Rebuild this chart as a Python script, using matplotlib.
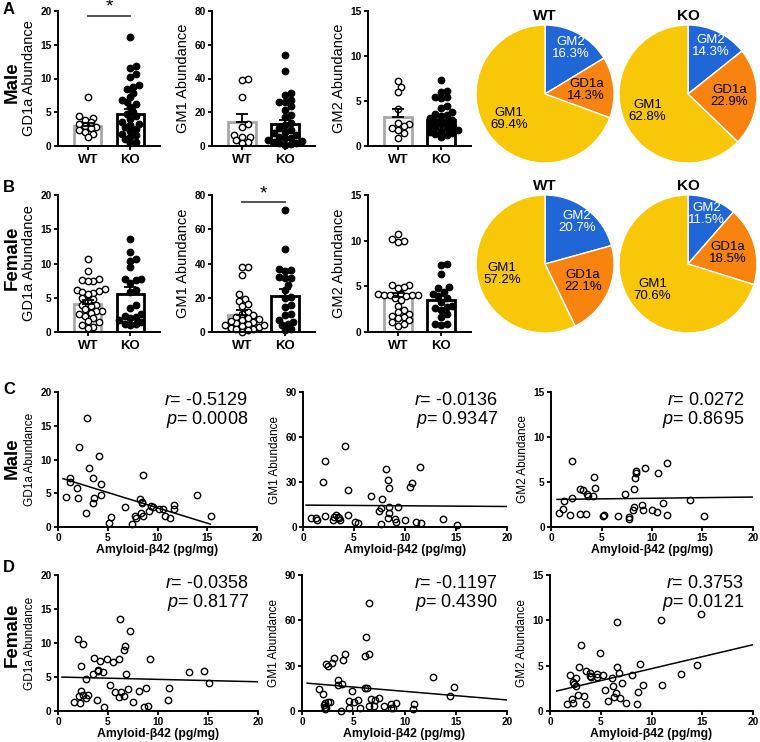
import numpy as np
import matplotlib.pyplot as plt

plt.rcParams['font.family'] = ['Liberation Sans', 'DejaVu Sans']
plt.rcParams['mathtext.fontset'] = 'custom'
plt.rcParams['mathtext.it'] = 'Liberation Sans:italic'
plt.rcParams['mathtext.rm'] = 'Liberation Sans'

# ---- bar chart data (WT / KO individual values, mean, SEM) ----
m_gd1a_wt = [7.3, 4.4, 4.2, 3.9, 3.5, 3.3, 3.0, 2.8, 2.6, 2.4, 2.1, 1.8, 1.4]
m_gd1a_ko = [16.2, 11.8, 11.6, 10.6, 10.2, 9.0, 8.8, 8.4, 7.9, 7.2, 6.8, 6.5, 6.2, 5.8, 5.1,
             4.8, 4.4, 4.0, 3.6, 3.3, 3.1, 2.8, 2.5, 2.2, 1.8, 1.6, 1.3, 1.0, 0.6, 0.4]
m_gm1_wt = [40, 39, 29, 13, 11.5, 6.5, 5.5, 5.1, 3.5, 2.5, 1.6]
m_gm1_ko = [54, 44.5, 31.6, 30, 27, 26.3, 26, 23.7, 21.3, 18.4, 17.4, 13.4, 12.5, 10.5, 9.5,
            8.5, 7.5, 6.5, 5.5, 5, 4.5, 3.5, 3, 2.6, 2, 1.6, 1.2, 0.8]
m_gm2_wt = [7.2, 6.6, 6.0, 4.1, 2.6, 2.4, 2.2, 2.0, 1.8, 1.4, 0.9]
m_gm2_ko = [7.3, 6.1, 6.0, 5.5, 5.4, 5.3, 4.4, 4.2, 3.8, 3.6, 3.4, 3.3, 3.1, 2.9, 2.7,
            2.5, 2.2, 2.1, 2.0, 1.8, 1.6, 1.4, 1.2, 1.0, 1.3, 1.7, 2.3, 2.8]
f_gd1a_wt = [10.7, 8.9, 7.7, 7.6, 7.5, 7.4, 6.3, 6.1, 6.0, 5.9, 5.7, 5.6, 4.9, 4.8, 4.5,
             4.0, 3.9, 3.8, 3.3, 3.1, 3.0, 2.8, 2.6, 2.3, 2.1, 1.6, 1.4, 1.0, 0.8, 0.6]
f_gd1a_ko = [13.6, 11.7, 10.7, 10.4, 9.5, 7.8, 7.7, 7.6, 7.2, 6.2, 5.9, 4.0, 3.5, 2.7, 2.4,
             2.2, 2.0, 1.7, 1.5, 1.2, 1.1, 1.0]
f_gm1_wt = [38, 37.7, 33, 22, 19.5, 18, 16.6, 15, 11.7, 10.7, 9.8, 8.8, 7.8, 6.8, 5.9,
            5.5, 4.9, 3.9, 3.5, 2.9, 2.5, 2.0, 1.5, 1.0, 0.2, 8.2, 6.3, 4.2]
f_gm1_ko = [71.2, 48.4, 36.5, 36, 35.5, 32.2, 31.8, 31.6, 27.7, 24.8, 20.5, 20, 15.6, 14.6,
            10.7, 9.8, 6.8, 6.0, 4.9, 3.9, 2.0, 1.0]
f_gm2_wt = [10.7, 10.2, 10.0, 9.8, 5.2, 5.1, 4.9, 4.8, 4.2, 4.2, 4.1, 4.1, 4.0, 4.0, 3.9,
            3.7, 3.5, 2.9, 2.4, 2.2, 2.0, 1.8, 1.6, 1.5, 1.3, 1.1, 0.9, 0.7]
f_gm2_ko = [7.5, 7.3, 6.4, 4.9, 4.8, 4.4, 4.2, 3.9, 3.7, 3.3, 2.9, 2.7, 2.6, 2.4, 2.0,
            1.6, 0.9, 0.85, 0.8]

m_means = {'gd1a': (2.95, 4.8), 'gm1': (14.0, 13.0), 'gm2': (3.26, 2.9)}
m_sems = {'gd1a': (0.45, 0.75), 'gm1': (4.8, 2.6), 'gm2': (0.8, 0.4)}
f_means = {'gd1a': (4.1, 5.6), 'gm1': (10.1, 20.9), 'gm2': (3.85, 3.5)}
f_sems = {'gd1a': (0.55, 0.9), 'gm1': (2.5, 4.1), 'gm2': (0.45, 0.45)}

# ---- pie data (GM2, GD1a, GM1 percentages) ----
pie_names = ['GM2', 'GD1a', 'GM1']
pie_colors = ['#2166d6', '#f8830f', '#f7c708']
pie_m_wt = [16.3, 14.3, 69.4]
pie_m_ko = [14.3, 22.9, 62.8]
pie_f_wt = [20.7, 22.1, 57.2]
pie_f_ko = [11.5, 18.5, 70.6]

# ---- correlation data: Amyloid-b42 (x) vs abundance (y) ----
c1_x = [2.92, 2.08, 4.13, 3.09, 8.5, 3.53, 1.18, 1.24, 4.37, 1.92, 4.34, 0.77, 2.05, 3.63, 3.53,
        14.0, 8.24, 8.4, 8.48, 2.86, 6.76, 5.3, 5.14, 7.46, 7.73, 7.8, 8.37, 8.57, 9.14, 9.3,
        9.5, 10.2, 10.6, 10.8, 11.3, 11.66, 11.66, 15.4]
c1_y = [16.2, 11.8, 10.5, 8.8, 7.7, 7.2, 7.3, 6.7, 6.4, 5.8, 4.8, 4.4, 4.3, 4.3, 3.5,
        4.7, 4.2, 3.7, 3.5, 2.1, 2.9, 1.5, 0.64, 0.4, 1.7, 1.4, 2.1, 1.7, 2.4, 3.1,
        2.9, 2.6, 2.7, 1.7, 1.4, 3.2, 2.6, 1.7]
c2_x = [4.15, 2.12, 1.96, 4.38, 8.17, 8.3, 8.4, 11.5, 10.7, 10.46, 6.7, 7.78, 7.42, 7.65, 8.4,
        9.3, 8.4, 4.38, 2.12, 0.78, 1.27, 1.37, 3.0, 3.27, 2.94, 3.56, 3.66, 3.43, 8.3, 9.05,
        9.15, 10.0, 5.1, 5.36, 7.65, 11.1, 11.57, 13.76, 15.13]
c2_y = [54.0, 44.3, 30.2, 24.7, 38.8, 31.1, 25.8, 39.9, 29.1, 26.7, 21.0, 18.5, 10.6, 12.8, 13.5,
        13.5, 9.5, 7.9, 7.3, 5.7, 6.0, 4.4, 6.6, 7.9, 4.4, 5.7, 4.4, 6.8, 5.7, 5.3,
        3.5, 4.4, 3.3, 2.4, 1.8, 3.1, 2.4, 5.5, 1.5]
c3_x = [2.07, 11.5, 9.3, 10.6, 8.4, 8.4, 8.3, 4.3, 4.36, 8.2, 2.83, 3.12, 3.55, 3.62, 4.14,
        7.37, 2.07, 1.25, 13.8, 11.1, 9.05, 8.26, 1.18, 0.82, 1.9, 2.9, 3.5, 9.14, 9.97, 10.46,
        8.1, 5.13, 5.26, 6.6, 7.7, 7.7, 11.5, 15.16]
c3_y = [7.3, 7.15, 6.6, 6.0, 6.2, 6.0, 5.5, 5.55, 4.33, 4.2, 4.2, 4.07, 3.7, 3.44, 3.5,
        3.7, 3.2, 2.9, 3.04, 2.67, 2.44, 2.2, 2.0, 1.56, 1.3, 1.5, 1.4, 1.9, 1.9, 1.7,
        1.85, 1.2, 1.3, 1.26, 1.1, 0.9, 1.3, 1.2]
d1_x = [6.23, 7.17, 1.97, 2.47, 6.67, 6.57, 9.23, 3.57, 4.23, 4.9, 5.47, 6.13, 2.3, 3.97, 4.0,
        4.5, 3.5, 2.8, 6.8, 13.07, 14.6, 15.07, 5.2, 11.13, 8.8, 7.0, 8.13, 5.67, 6.33, 6.07,
        6.57, 2.3, 2.47, 3.0, 2.8, 2.07, 1.6, 2.17, 3.9, 7.5, 10.97, 4.63, 8.63, 8.97]
d1_y = [13.6, 11.7, 10.6, 9.9, 9.5, 8.9, 7.6, 7.8, 7.3, 7.6, 7.2, 7.7, 6.6, 6.1, 5.85,
        5.7, 5.5, 4.7, 5.4, 5.7, 5.85, 4.15, 3.8, 3.4, 3.4, 3.3, 2.9, 2.8, 2.8, 2.1,
        2.2, 2.9, 2.4, 2.3, 1.95, 2.2, 1.37, 1.2, 1.6, 1.37, 1.56, 0.63, 0.63, 0.73]
d2_x = [6.57, 6.2, 6.5, 6.12, 4.23, 3.09, 4.0, 2.3, 2.9, 2.54, 3.5, 3.9, 3.5, 1.66, 2.0,
        4.9, 6.12, 6.34, 12.78, 14.8, 14.4, 7.48, 7.15, 6.76, 5.46, 4.55, 5.1, 2.76, 2.5, 2.28,
        2.1, 2.28, 2.37, 2.28, 3.84, 4.55, 5.7, 6.5, 7.0, 7.97, 8.7, 8.68, 8.88, 9.17, 10.96, 10.8]
d2_y = [71.6, 48.8, 37.9, 36.1, 37.9, 35.0, 33.5, 31.3, 31.7, 29.5, 20.6, 18.0, 17.3, 14.6, 11.1,
        13.3, 15.1, 15.1, 22.4, 16.2, 10.2, 8.9, 7.3, 7.8, 7.3, 6.65, 5.8, 6.2, 6.2, 5.1,
        4.0, 2.9, 1.8, 1.1, 0.2, 1.8, 1.8, 3.1, 3.1, 3.5, 4.4, 2.2, 1.8, 5.3, 4.4, 1.1]
d3_x = [14.85, 10.9, 6.56, 3.05, 4.92, 2.89, 1.97, 2.52, 3.54, 3.93, 3.93, 4.59, 4.66, 5.25, 4.03,
        2.3, 2.36, 2.52, 6.62, 6.79, 8.85, 8.03, 7.11, 6.13, 6.23, 9.18, 11.0, 12.9, 14.5, 8.69,
        5.44, 6.5, 3.34, 2.79, 2.16, 2.3, 1.64, 3.54, 5.67, 6.3, 6.89, 7.44, 8.59]
d3_y = [10.68, 10.06, 9.77, 7.24, 6.37, 4.9, 3.95, 3.66, 4.39, 4.2, 3.84, 4.1, 3.73, 4.0, 3.73,
        3.2, 3.0, 2.74, 4.87, 4.2, 5.23, 4.0, 3.07, 3.59, 2.74, 2.85, 2.85, 4.1, 5.12, 2.09,
        2.3, 2.0, 1.65, 1.72, 1.28, 0.91, 0.8, 0.73, 1.1, 1.54, 1.39, 0.91, 0.73]

# fitted lines: intercept, slope, x start, x end
fits = {'c1': (7.39, -0.455, 0.5, 15.3), 'c2': (14.6, -0.046, 0.3, 20),
        'c3': (3.06, 0.0134, 0.6, 20), 'd1': (5.0, -0.035, 0.4, 20),
        'd2': (18.7, -0.569, 0.5, 20), 'd3': (2.03, 0.264, 0.66, 20)}
stats = {'c1': ('-0.5129', '0.0008'), 'c2': ('-0.0136', '0.9347'), 'c3': ('0.0272', '0.8695'),
         'd1': ('-0.0358', '0.8177'), 'd2': ('-0.1197', '0.4390'), 'd3': ('0.3753', '0.0121')}

W, H = 760, 742
fig = plt.figure(figsize=(W / 100, H / 100), dpi=100)


def box(l, t, r, b):
    return fig.add_axes([l / W, 1 - b / H, (r - l) / W, (b - t) / H])


def style(ax):
    for s in ['top', 'right']:
        ax.spines[s].set_visible(False)
    for s in ['left', 'bottom']:
        ax.spines[s].set_linewidth(1.4)
    ax.tick_params(length=3, width=1.3, labelsize=7.3, pad=1.5)
    for lab in ax.get_xticklabels() + ax.get_yticklabels():
        lab.set_fontweight('bold')


def swarm(vals, ymax, h_px=135.0, w_px=103.0, xspan=2.4, d=5.6):
    # simple beeswarm layout in pixel space
    y = np.asarray(vals, float) * h_px / ymax
    xs = np.zeros(len(y))
    placed = []
    cands = [0.0]
    for k in range(1, 14):
        cands += [k * d * 0.5, -k * d * 0.5]
    for i in np.argsort(y):
        for c in cands:
            if all((c - px) ** 2 + (y[i] - py) ** 2 >= (d * 0.98) ** 2 for px, py in placed):
                break
        placed.append((c, y[i]))
        xs[i] = c
    return xs * xspan / w_px


def bar_panel(l, t, r, b, wt, ko, means, sems, ymax, step, ylabel, star=None):
    ax = box(l, t, r, b)
    ax.set_xlim(-0.7, 1.7)
    ax.set_ylim(0, ymax)
    ax.bar([0, 1], means, width=0.64, color='white', edgecolor=['#a8a8a8', 'black'],
           linewidth=2.0, zorder=1)
    for i, vals in enumerate([wt, ko]):
        offs = swarm(vals, ymax, h_px=b - t, w_px=r - l)
        ax.plot(i + offs, vals, 'o', ms=4.6, mfc='white' if i == 0 else 'black',
                mec='black', mew=1.0, zorder=2, clip_on=False)
        ax.errorbar(i, means[i], yerr=[[0], [sems[i]]], color='black', capsize=4,
                    elinewidth=1.3, capthick=1.3, zorder=3)
    ax.set_yticks(np.arange(0, ymax + 0.1, step))
    ax.set_xticks([0, 1])
    ax.set_xticklabels(['WT', 'KO'])
    ax.set_ylabel(ylabel, fontsize=10.5, labelpad=3)
    style(ax)
    ax.tick_params(axis='x', labelsize=9.5, pad=3)
    if star is not None:
        ax.plot([0, 1], [star, star], color='#444444', lw=1.3, clip_on=False)
        ax.text(0.5, star, '*', ha='center', va='bottom', fontsize=14, clip_on=False)
    return ax


def pie_panel(cx, cy, rad, vals, title):
    ax = box(cx - rad, cy - rad, cx + rad, cy + rad)
    wedges, _ = ax.pie(vals, colors=pie_colors, startangle=90, counterclock=False,
                       wedgeprops=dict(edgecolor='white', linewidth=1.0))
    ax.set_xlim(-1, 1)
    ax.set_ylim(-1, 1)
    label_r = {'GM2': 0.77, 'GD1a': 0.6, 'GM1': 0.64}
    for w, name, v in zip(wedges, pie_names, vals):
        ang = np.deg2rad((w.theta1 + w.theta2) / 2)
        rr = label_r[name]
        ax.text(rr * np.cos(ang), rr * np.sin(ang), f'{name}\n{v}%', ha='center', va='center',
                fontsize=9.5, color='white' if name == 'GM2' else 'black', linespacing=1.0)
    fig.text(cx / W, 1 - (cy - rad - 9) / H, title, ha='center', va='center',
             fontsize=11, fontweight='bold')


def scatter_panel(l, t, r, b, xs, ys, ymax, step, ylabel, key):
    ax = box(l, t, r, b)
    ax.set_xlim(0, 20)
    ax.set_ylim(0, ymax)
    ax.plot(xs, ys, 'o', ms=4.6, mfc='none', mec='black', mew=1.0, clip_on=False)
    b0, b1, x0, x1 = fits[key]
    xx = np.array([x0, x1])
    ax.plot(xx, b0 + b1 * xx, color='black', lw=1.1)
    ax.set_xticks([0, 5, 10, 15, 20])
    ax.set_yticks(np.arange(0, ymax + 0.1, step))
    ax.set_ylabel(ylabel, fontsize=8.5, labelpad=3)
    ax.set_xlabel('Amyloid-β42 (pg/mg)', fontsize=8.8, fontweight='bold', labelpad=0.5)
    style(ax)
    rv, pv = stats[key]
    ax.text(0.955, 0.94, f'$r$= {rv}', transform=ax.transAxes, ha='right', va='center', fontsize=13)
    ax.text(0.955, 0.80, f'$p$= {pv}', transform=ax.transAxes, ha='right', va='center', fontsize=13)
    return ax


# row A (male) and row B (female) bar charts
bar_panel(58, 11, 160, 146, m_gd1a_wt, m_gd1a_ko, m_means['gd1a'], m_sems['gd1a'], 20, 5,
          'GD1a Abundance', star=19.3)
bar_panel(212, 11, 315, 146, m_gm1_wt, m_gm1_ko, m_means['gm1'], m_sems['gm1'], 80, 20,
          'GM1 Abundance')
bar_panel(368, 11, 471, 146, m_gm2_wt, m_gm2_ko, m_means['gm2'], m_sems['gm2'], 15, 5,
          'GM2 Abundance')
bar_panel(58, 195, 160, 332, f_gd1a_wt, f_gd1a_ko, f_means['gd1a'], f_sems['gd1a'], 20, 5,
          'GD1a Abundance')
bar_panel(212, 195, 315, 332, f_gm1_wt, f_gm1_ko, f_means['gm1'], f_sems['gm1'], 80, 20,
          'GM1 Abundance', star=75.7)
bar_panel(368, 195, 471, 332, f_gm2_wt, f_gm2_ko, f_means['gm2'], f_sems['gm2'], 15, 5,
          'GM2 Abundance')

# pies
pie_panel(545, 94, 69, pie_m_wt, 'WT')
pie_panel(688, 94, 69, pie_m_ko, 'KO')
pie_panel(545, 264, 69, pie_f_wt, 'WT')
pie_panel(688, 264, 69, pie_f_ko, 'KO')

# correlation rows C (male) and D (female)
scatter_panel(58, 392, 257, 527, c1_x, c1_y, 20, 5, 'GD1a Abundance', 'c1')
scatter_panel(303, 392, 507, 527, c2_x, c2_y, 90, 30, 'GM1 Abundance', 'c2')
scatter_panel(551, 392, 753, 527, c3_x, c3_y, 15, 5, 'GM2 Abundance', 'c3')
scatter_panel(58, 575, 258, 711, d1_x, d1_y, 20, 5, 'GD1a Abundance', 'd1')
scatter_panel(302, 575, 507, 711, d2_x, d2_y, 90, 30, 'GM1 Abundance', 'd2')
scatter_panel(550, 575, 753, 711, d3_x, d3_y, 15, 5, 'GM2 Abundance', 'd3')

# panel letters and row labels
for letter, y in [('A', 10), ('B', 188), ('C', 389), ('D', 568)]:
    fig.text(3 / W, 1 - y / H, letter, ha='left', va='center', fontsize=12, fontweight='bold')
for lab, y in [('Male', 82), ('Female', 258), ('Male', 458), ('Female', 635)]:
    fig.text(12 / W, 1 - y / H, lab, ha='center', va='center', rotation=90,
             fontsize=13.5, fontweight='bold')

fig.savefig('out.png', dpi=100)
